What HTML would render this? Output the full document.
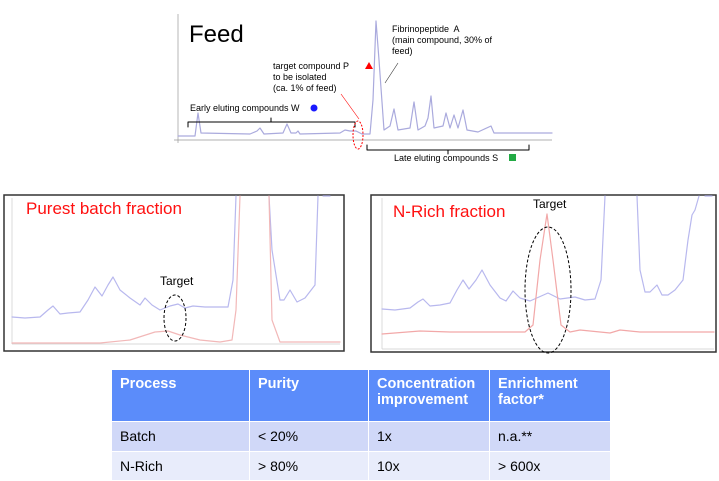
<!DOCTYPE html>
<html><head><style>
body{margin:0;width:719px;height:481px;background:#fff;position:relative;overflow:hidden;font-family:"Liberation Sans",sans-serif}
.t{position:absolute;white-space:nowrap}
table{position:absolute;left:111px;top:369px;border-collapse:collapse;font-family:"Liberation Sans",sans-serif;font-size:14px}
td{border:1px solid #fff;padding:6px 8px 2px;vertical-align:top}
svg path{stroke-linejoin:round;stroke-linecap:round}
</style></head><body>
<svg width="719" height="481" style="position:absolute;left:0;top:0">
<line x1="178" y1="14" x2="178" y2="143" stroke="#999" stroke-width="0.7"/>
<line x1="174" y1="140" x2="552" y2="140" stroke="#999" stroke-width="0.7"/>
<path d="M178 136 L195 136 L198 113 L201 133 L250 134 L257 131 L260 128 L264 134 L283 133 L287 124 L291 133 L296 133 L298 131 L300 134 L340 133 L345 130 L350 131 L356 131 L362 134 L370 134 L373 100 L376 21 L379 60 L384 130 L390 126 L394 109 L398 130 L410 128 L414 102 L418 130 L425 126 L428 118 L431 96 L434 128 L443 126 L446 113 L450 128 L454 115 L458 128 L463 110 L467 130 L478 132 L491 126 L494 133 L552 133" fill="none" stroke="#aaaadd" stroke-width="1.2"/>
<path d="M188 127 L188 122 L355 122 L355 127 M271 122 L271 118" fill="none" stroke="#000" stroke-width="1"/>
<path d="M367 145 L367 150 L529 150 L529 145 M448 150 L448 154" fill="none" stroke="#000" stroke-width="1"/>
<ellipse cx="358" cy="135" rx="5" ry="14" fill="none" stroke="red" stroke-dasharray="2,1.5" stroke-width="1"/>
<line x1="341" y1="94" x2="359" y2="119" stroke="red" stroke-width="0.6"/>
<line x1="398" y1="63" x2="385" y2="83" stroke="#333" stroke-width="0.6"/>
<circle cx="314" cy="108" r="3.5" fill="#1a1aff"/>
<polygon points="365,69 369,62 373,69" fill="red"/>
<rect x="509" y="154" width="7" height="7" fill="#22aa44"/>
<rect x="4" y="195" width="340" height="156" fill="none" stroke="#333" stroke-width="1.5"/>
<line x1="12" y1="198" x2="12" y2="344" stroke="#ccc" stroke-width="0.7"/>
<line x1="12" y1="344" x2="340" y2="344" stroke="#ccc" stroke-width="0.7"/>
<path d="M12 317 L25 318 L40 317 L48 310 L53 306 L60 314 L68 313 L80 312 L88 300 L95 287 L102 296 L108 285 L113 277 L120 290 L130 298 L140 305 L145 298 L152 305 L160 310 L170 306 L178 304 L185 308 L193 306 L205 307 L228 307 L233 280 L236 196 M269 196 L272 250 L280 300 L284 300 L290 290 L297 302 L305 298 L315 285 L318 196 M323 196 L327 196 L330 196" fill="none" stroke="#b8b8ee" stroke-width="1.2"/>
<path d="M12 343 L100 343 L130 340 L155 332 L168 331 L180 335 L200 340 L220 342 L232 340 L236 310 L240 196 M269 196 L272 320 L280 342 L340 342" fill="none" stroke="#f2b8b8" stroke-width="1.2"/>
<ellipse cx="175" cy="318" rx="11" ry="23" fill="none" stroke="#000" stroke-dasharray="3,2" stroke-width="1"/>
<rect x="371" y="195" width="345" height="157" fill="none" stroke="#333" stroke-width="1.5"/>
<line x1="382" y1="198" x2="382" y2="349" stroke="#ccc" stroke-width="0.7"/>
<line x1="382" y1="349" x2="714" y2="349" stroke="#ccc" stroke-width="0.7"/>
<path d="M382 309 L395 310 L410 308 L418 302 L423 299 L430 306 L440 305 L450 303 L457 290 L463 280 L469 289 L476 280 L482 270 L490 285 L500 298 L506 301 L513 291 L520 298 L530 301 L548 293 L560 299 L575 297 L585 300 L595 299 L601 280 L605 196 M637 196 L640 270 L645 292 L650 292 L657 285 L662 295 L668 295 L675 290 L683 280 L688 240 L692 215 L695 210 L699 196 M705 196 L712 196" fill="none" stroke="#b8b8ee" stroke-width="1.2"/>
<path d="M382 334 L420 331 L450 332 L525 332 L533 325 L540 260 L547 214 L553 260 L561 325 L570 332 L580 330 L610 333 L620 330 L640 332 L714 332" fill="none" stroke="#f2a8a8" stroke-width="1.2"/>
<ellipse cx="548" cy="290" rx="23" ry="63" fill="none" stroke="#000" stroke-dasharray="3,2" stroke-width="1"/>
</svg>
<div class="t" style="left:189px;top:21px;font-size:24px">Feed</div>
<div class="t" style="left:392px;top:24px;font-size:9px;line-height:11px">Fibrinopeptide&nbsp; A<br>(main compound, 30% of<br>feed)</div>
<div class="t" style="left:273px;top:61px;font-size:9px;line-height:11px">target compound P<br>to be isolated<br>(ca. 1% of feed)</div>
<div class="t" style="left:190px;top:103px;font-size:9px">Early eluting compounds W</div>
<div class="t" style="left:394px;top:153px;font-size:9px">Late eluting compounds S</div>
<div class="t" style="left:26px;top:199px;font-size:17px;color:#ff1010">Purest batch fraction</div>
<div class="t" style="left:160px;top:274px;font-size:12px">Target</div>
<div class="t" style="left:393px;top:202px;font-size:17px;color:#ff1010">N-Rich fraction</div>
<div class="t" style="left:533px;top:197px;font-size:12px">Target</div>
<table>
<tr style="background:#5b8cfa;color:#fff;font-weight:bold;height:52px;font-size:14.5px"><td style="width:121px">Process</td><td style="width:102px">Purity</td><td style="width:104px">Concentration<br>improvement</td><td style="width:104px">Enrichment<br>factor*</td></tr>
<tr style="background:#d0d8f8;height:30px"><td>Batch</td><td>&lt; 20%</td><td>1x</td><td>n.a.**</td></tr>
<tr style="background:#e8ecfb;height:29px"><td>N-Rich</td><td>&gt; 80%</td><td>10x</td><td>&gt; 600x</td></tr>
</table>
</body></html>
